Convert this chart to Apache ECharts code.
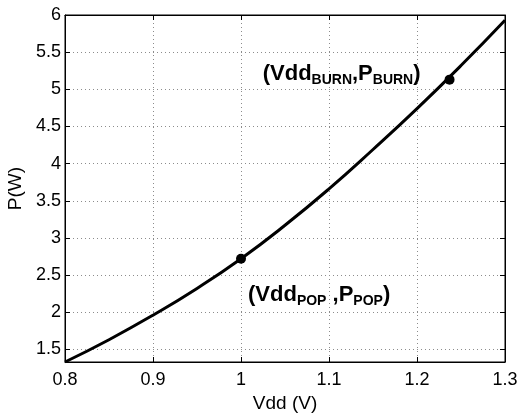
<!DOCTYPE html>
<html>
<head>
<meta charset="utf-8">
<script src="https://cdn.jsdelivr.net/npm/echarts@6/dist/echarts.min.js"></script>
<style>
  html, body { margin: 0; padding: 0; background: #fff; }
  #chart { width: 521px; height: 414px; }
</style>
</head>
<body>
<div id="chart"></div>
<script>
// Supply voltage (V) and power (W) along the curve
const vdd = [0.80, 0.85, 0.90, 0.95, 1.00, 1.05, 1.10, 1.15, 1.20, 1.25, 1.30];
const power = [1.33, 1.63, 1.96, 2.32, 2.72, 3.17, 3.66, 4.19, 4.74, 5.32, 5.93];

// Marked operating points
const popPoint = [1.00, 2.72];
const burnPoint = [1.237, 5.13];

// Tick values
const yTicks = [1.5, 2, 2.5, 3, 3.5, 4, 4.5, 5, 5.5, 6];
const yMin = 1.33, yMax = 6;
const xMin = 0.8, xMax = 1.3, xStep = 0.1;

const font = '"Liberation Sans", Arial, Helvetica, sans-serif';
const gridLine = { show: true, lineStyle: { color: '#8c8c8c', type: [1, 3], width: 1 } };

// Bold annotation text with lowered subscripts
const richText = {
  b: { fontFamily: font, fontWeight: 'bold', fontSize: 22, color: '#000', opacity: 1, lineHeight: 24, verticalAlign: 'top' },
  s: { fontFamily: font, fontWeight: 'bold', fontSize: 14, color: '#000', opacity: 1, lineHeight: 24, verticalAlign: 'top', padding: [10, 0, 0, 0] }
};

const chart = echarts.init(document.getElementById('chart'));
chart.setOption({
  animation: false,
  backgroundColor: '#fff',
  grid: { left: 65, right: 16, top: 15, bottom: 52, containLabel: false, outerBoundsMode: 'none',
    show: true, borderColor: '#000', borderWidth: 1 },
  xAxis: [{
    type: 'value', min: xMin, max: xMax, interval: xStep,
    name: 'Vdd (V)', nameLocation: 'middle', nameGap: 30,
    nameTextStyle: { fontFamily: font, fontSize: 19, color: '#000' },
    axisLine: { show: true, onZero: false, lineStyle: { color: '#000' } },
    axisTick: { show: true, inside: true, length: 5, lineStyle: { color: '#000' } },
    axisLabel: { fontFamily: font, fontSize: 18, color: '#000', margin: 9,
      formatter: v => String(Math.round(v * 10) / 10) },
    splitLine: gridLine
  }, {
    type: 'value', min: xMin, max: xMax, interval: xStep, position: 'top',
    axisLine: { show: true, onZero: false, lineStyle: { color: '#000' } },
    axisTick: { show: true, inside: true, length: 5, lineStyle: { color: '#000' } },
    axisLabel: { show: false }, splitLine: { show: false }
  }],
  yAxis: [{
    type: 'value', min: yMin, max: yMax,
    name: 'P(W)', nameLocation: 'middle', nameGap: 40, nameRotate: 90,
    nameTextStyle: { fontFamily: font, fontSize: 19, color: '#000' },
    axisLine: { show: true, onZero: false, lineStyle: { color: '#000' } },
    axisTick: { show: true, inside: true, length: 5, customValues: yTicks, lineStyle: { color: '#000' } },
    axisLabel: { fontFamily: font, fontSize: 18, color: '#000', margin: 4, customValues: yTicks },
    splitLine: gridLine
  }, {
    type: 'value', min: yMin, max: yMax, position: 'right',
    axisLine: { show: true, onZero: false, lineStyle: { color: '#000' } },
    axisTick: { show: true, inside: true, length: 5, customValues: yTicks, lineStyle: { color: '#000' } },
    axisLabel: { show: false, customValues: yTicks }, splitLine: { show: false }
  }],
  series: [{
    type: 'line',
    data: vdd.map((v, i) => [v, power[i]]),
    smooth: true,
    showSymbol: false,
    lineStyle: { color: '#000', width: 3 },
    z: 3
  }, {
    type: 'scatter',
    symbolSize: 10,
    itemStyle: { color: '#000', opacity: 1 },
    z: 4,
    label: { color: '#000', textBorderWidth: 0, opacity: 1 },
    data: [{
      value: popPoint,
      label: { show: true, color: '#000', position: 'right', distance: 2, offset: [0, 37],
        formatter: '{b|(Vdd}{s|POP}{b| ,P}{s|POP}{b|)}', rich: richText }
    }, {
      value: burnPoint,
      label: { show: true, color: '#000', position: 'left', distance: 24, offset: [0, -5],
        formatter: '{b|(Vdd}{s|BURN}{b|,P}{s|BURN}{b|)}', rich: richText }
    }]
  }]
});
</script>
</body>
</html>
